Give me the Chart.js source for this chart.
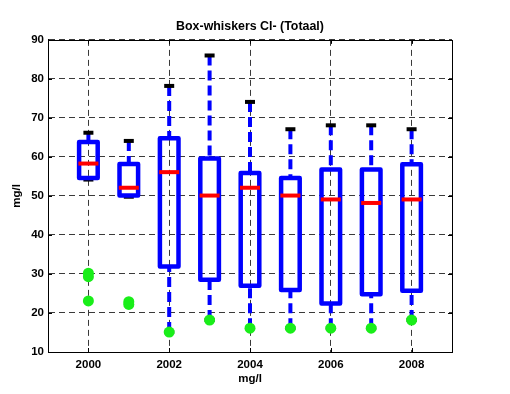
<!DOCTYPE html>
<html>
<head>
<meta charset="utf-8">
<script src="https://cdn.jsdelivr.net/npm/chart.js@4"></script>
<style>
  html, body { margin: 0; padding: 0; background: #fff; }
</style>
</head>
<body>
<canvas id="chart" width="510" height="394"></canvas>
<script>
// Chloride per year (mg/l): box = q1..q3, red line = median, dashed whiskers to the black caps
const years = [2000, 2001, 2002, 2003, 2004, 2005, 2006, 2007, 2008];
const whiskerHigh = [66.2, 64.1, 78.2, 86, 74.1, 67.1, 68.1, 68.1, 67.1];
const q3 = [63.8, 58.2, 64.8, 59.6, 55.9, 54.6, 56.8, 56.8, 58.1];
const median = [58.3, 52.1, 56.1, 50.1, 52.1, 50.1, 49.1, 48.2, 49.1];
const q1 = [54.6, 50.1, 31.9, 28.5, 27.0, 25.9, 22.4, 24.8, 25.7];
const whiskerLow = [54.2, 49.8, 15.1, 18.2, 16.1, 16.1, 16.1, 16.1, 18.2];

// green markers
const dotYears = [2000, 2000, 2000, 2001, 2001, 2002, 2003, 2004, 2005, 2006, 2007, 2008];
const dotValues = [30.2, 29.3, 23.1, 22.9, 22.2, 15.1, 18.2, 16.1, 16.1, 16.1, 16.1, 18.2];

const xTicks = [2000, 2002, 2004, 2006, 2008];
const yTicks = [10, 20, 30, 40, 50, 60, 70, 80, 90];

const BLUE = '#0000ff';
const RED = '#ff0000';
const GREEN = 'rgb(25,238,25)';
const GRID = '#3a3a3a';
const FAMILY = '"Liberation Sans", Arial, sans-serif';
const FONT = { family: FAMILY, size: 11.5, weight: 'bold' };

const boxPlot = {
  id: 'boxPlot',
  beforeDatasetsDraw(chart) {
    const { ctx, scales: { x, y } } = chart;
    const seg = (x1, y1, x2, y2) => {
      ctx.beginPath();
      ctx.moveTo(x1, y1);
      ctx.lineTo(x2, y2);
      ctx.stroke();
    };
    ctx.save();
    years.forEach((yr, i) => {
      const cx = x.getPixelForValue(yr);
      const hi = y.getPixelForValue(whiskerHigh[i]);
      const lo = y.getPixelForValue(whiskerLow[i]);
      const top = y.getPixelForValue(q3[i]);
      const bot = y.getPixelForValue(q1[i]);
      const mid = y.getPixelForValue(median[i]);

      // whiskers
      ctx.strokeStyle = BLUE;
      ctx.lineWidth = 4;
      ctx.lineCap = 'butt';
      ctx.setLineDash([10, 5]);
      seg(cx, hi, cx, top);
      seg(cx, lo, cx, bot);
      ctx.setLineDash([]);

      // caps
      ctx.strokeStyle = '#000';
      seg(cx - 5, hi, cx + 5, hi);
      seg(cx - 5, lo, cx + 5, lo);

      // box
      ctx.strokeStyle = BLUE;
      ctx.lineWidth = 4.5;
      ctx.lineJoin = 'round';
      ctx.strokeRect(cx - 9.3, top, 18.6, bot - top);

      // median
      ctx.strokeStyle = RED;
      ctx.lineWidth = 4;
      seg(cx - 10, mid, cx + 10, mid);
    });
    ctx.restore();
  },
  afterDraw(chart) {
    const { ctx, chartArea: a, scales: { x, y } } = chart;
    ctx.save();
    ctx.strokeStyle = '#000';
    ctx.lineWidth = 1;
    ctx.strokeRect(Math.round(a.left) + 0.5, Math.round(a.top) + 0.5,
      Math.round(a.right - a.left), Math.round(a.bottom - a.top));
    ctx.beginPath();
    xTicks.forEach((v) => {
      const px = Math.round(x.getPixelForValue(v)) + 0.5;
      ctx.moveTo(px, a.bottom); ctx.lineTo(px, a.bottom - 4);
      ctx.moveTo(px, a.top); ctx.lineTo(px, a.top + 4);
    });
    yTicks.forEach((v) => {
      const py = Math.round(y.getPixelForValue(v)) + 0.5;
      ctx.moveTo(a.left, py); ctx.lineTo(a.left + 4, py);
      ctx.moveTo(a.right, py); ctx.lineTo(a.right - 4, py);
    });
    ctx.stroke();
    ctx.restore();
  },
};

new Chart(document.getElementById('chart'), {
  type: 'scatter',
  data: {
    datasets: [{
      data: dotYears.map((yr, i) => ({ x: yr, y: dotValues[i] })),
      pointRadius: 5.5,
      pointBackgroundColor: GREEN,
      pointBorderWidth: 0,
    }],
  },
  options: {
    responsive: false,
    animation: false,
    layout: { padding: { left: 0, right: 10, top: 0, bottom: 0 } },
    plugins: {
      legend: { display: false },
      tooltip: { enabled: false },
      title: {
        display: true,
        text: 'Box-whiskers Cl- (Totaal)',
        color: '#000',
        font: { family: FAMILY, size: 12.4, weight: 'bold' },
        padding: { top: 19, bottom: 6 },
      },
    },
    scales: {
      x: {
        type: 'linear',
        min: 1999,
        max: 2009,
        afterBuildTicks: (s) => { s.ticks = xTicks.map((v) => ({ value: v })); },
        afterFit: (s) => { s.height = 42; },
        grid: { color: GRID, drawTicks: false },
        border: { color: '#000', dash: [6, 4] },
        ticks: { padding: 6, color: '#000', font: FONT, callback: (v) => String(v) },
        title: { display: true, text: 'mg/l', color: '#000', font: FONT, padding: { top: 0, bottom: 8 } },
      },
      y: {
        min: 10,
        max: 90,
        afterBuildTicks: (s) => { s.ticks = yTicks.map((v) => ({ value: v })); },
        afterFit: (s) => { s.width = 48; },
        grid: { color: GRID, drawTicks: false },
        border: { color: '#000', dash: [6, 4] },
        ticks: { padding: 4, color: '#000', font: FONT },
        title: { display: true, text: 'mg/l', color: '#000', font: FONT, padding: { top: 10, bottom: 0 } },
      },
      // empty right-hand strip so the title centres over the plot box
      yRight: {
        position: 'right',
        min: 10,
        max: 90,
        afterFit: (s) => { s.width = 48; },
        grid: { display: false },
        border: { display: false },
        ticks: { display: false },
      },
    },
  },
  plugins: [boxPlot],
});
</script>
</body>
</html>
